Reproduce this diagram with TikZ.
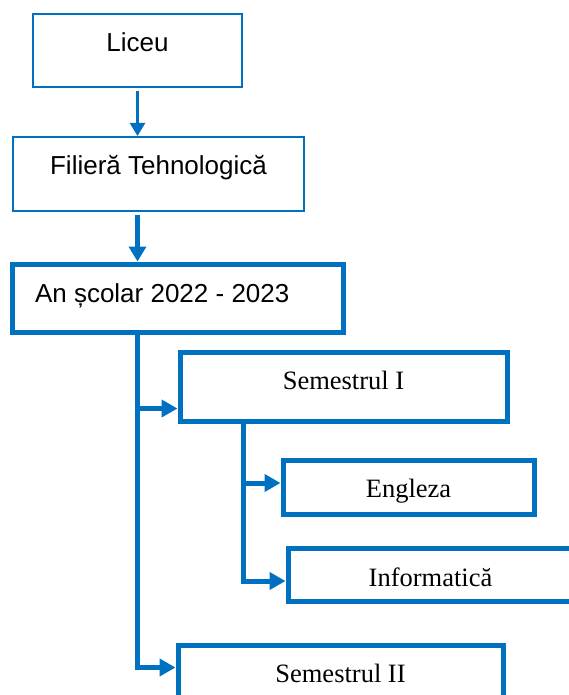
\documentclass[tikz,border=0pt]{standalone}
\usepackage{fontspec}
\setmainfont{Liberation Serif}
\setsansfont{Liberation Sans}
\usetikzlibrary{arrows.meta, positioning, calc}
\definecolor{schemablue}{HTML}{0070C0}

\begin{document}
\begin{tikzpicture}[x=1pt, y=-1pt,
  box/.style={draw=schemablue, inner sep=0pt, anchor=base, fill=white},
  thinbox/.style={box, line width=2pt, font=\sffamily\fontsize{26}{30}\selectfont},
  widebox/.style={box, line width=5pt, font=\sffamily\fontsize{26}{30}\selectfont},
  levelbox/.style={box, line width=5pt, font=\rmfamily\fontsize{26.5}{30}\selectfont},
  link/.style={draw=schemablue, line width=5pt},
  tip/.style={-{Triangle[length=16pt, width=17pt]}}]
\clip (0,0) rectangle (569,695);

% School and track
\node[thinbox, minimum width=209pt, text height=38pt, text depth=35pt] (liceu) at (137.5,52) {Liceu};
\node[thinbox, minimum width=291pt, text height=38pt, text depth=36pt] (filiera) at (158.5,175) {Filieră Tehnologică};
\node[widebox, inner xsep=23pt, text height=38pt, text depth=30pt] (an) at (177.5,302) {\makebox[285pt][l]{An școlar 2022 - 2023}};

% Semesters and subjects
\node[levelbox, minimum width=327pt, text height=37pt, text depth=32pt] (sem1) at (343.5,389) {Semestrul I};
\node[levelbox, minimum width=251pt, text height=37pt, text depth=17pt] (engleza) at (408.5,497) {Engleza};
\node[levelbox, minimum width=285pt, text height=38pt, text depth=15pt] (info) at (430.5,586) {Informatică};
\node[levelbox, minimum width=325pt, text height=37pt, text depth=40pt] (sem2) at (340.5,682) {Semestrul II};

% Top arrows
\draw[draw=schemablue, line width=2.5pt, -{Triangle[length=13pt, width=15pt]}, shorten <=3pt]
  (liceu.south) -- (liceu.south |- filiera.north);
\draw[draw=schemablue, line width=5.5pt, -{Triangle[length=15pt, width=17pt]}, shorten <=3pt]
  (liceu.south |- filiera.south) -- (liceu.south |- an.north);

% Main trunk
\coordinate (trunk) at (liceu.south |- an.south);
\coordinate (toSem1) at ([yshift=15pt]sem1.south west);
\coordinate (toSem2) at ([yshift=-25pt]sem2.north west);
\draw[link, tip] (trunk) |- (toSem2);
\draw[link, tip] (toSem1 -| trunk) -- (toSem1);

% Subject trunk
\coordinate (subtrunk) at ([xshift=-100pt]sem1.south);
\coordinate (toEng) at ([yshift=4pt]engleza.west);
\coordinate (toInfo) at ([yshift=-6.5pt]info.west);
\draw[link, tip] (subtrunk) |- (toInfo);
\draw[link, tip] (toEng -| subtrunk) -- (toEng);
\end{tikzpicture}
\end{document}
